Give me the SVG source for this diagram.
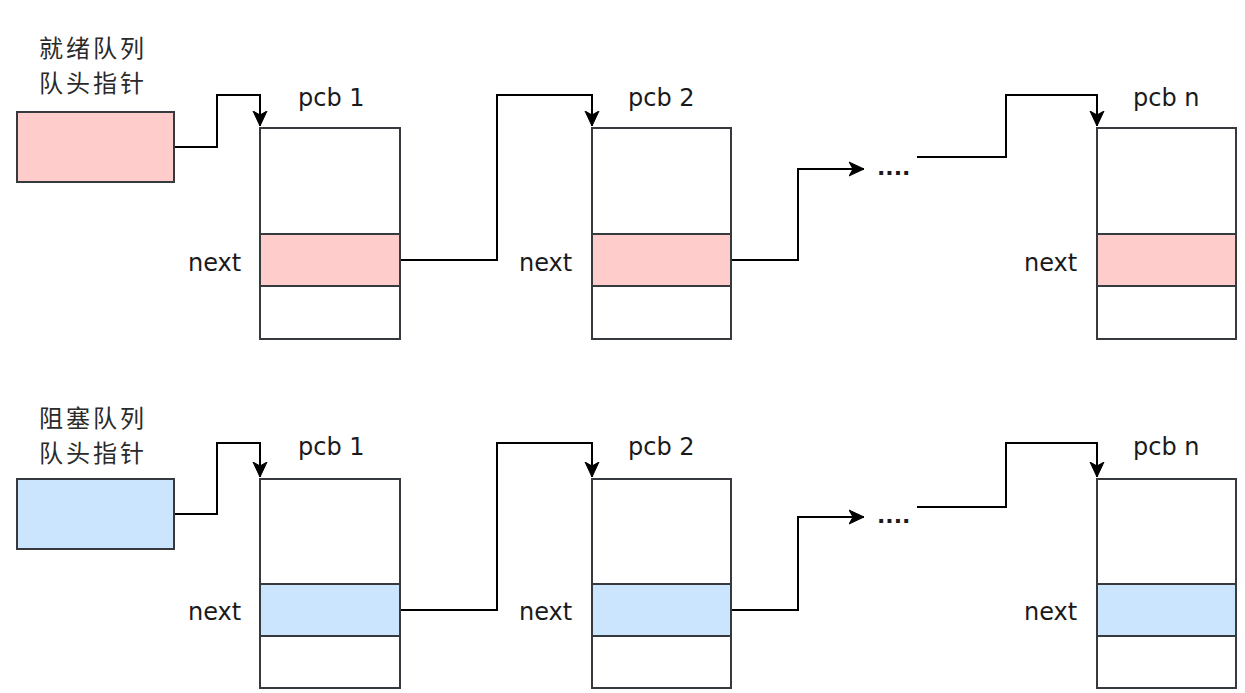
<svg xmlns="http://www.w3.org/2000/svg" width="1245" height="693" viewBox="0 0 1245 693">
<defs>
<marker id="arr" viewBox="0 0 16 16" markerWidth="16" markerHeight="16" refX="15" refY="8" orient="auto" markerUnits="userSpaceOnUse">
<path d="M0,1 L15,8 L0,15 L4,8 Z" fill="#000" stroke="#000" stroke-width="1" stroke-linejoin="miter"/>
</marker>
<style>
.box{fill:#fff;stroke:#36393d;stroke-width:2}
.pink{fill:#ffcccc;stroke:#36393d;stroke-width:2}
.blue{fill:#cce5ff;stroke:#36393d;stroke-width:2}
.edge{fill:none;stroke:#000;stroke-width:2}
.lbl{font-family:"DejaVu Sans",sans-serif;font-size:24px;fill:#1a1a1a}
.cn{font-family:"Noto Sans CJK SC","Noto Sans",sans-serif;font-size:24px;letter-spacing:3px;fill:#2a2a2a}
.dots{font-family:"DejaVu Sans",sans-serif;font-size:22px;font-weight:bold;fill:#1a1a1a}
</style>
</defs>
<rect width="1245" height="693" fill="#fff"/>

<g id="connectors">
<path class="edge" d="M174,147 H217 V95 H260 V126" marker-end="url(#arr)"/>
<path class="edge" d="M400,260 H497 V95 H592 V126" marker-end="url(#arr)"/>
<path class="edge" d="M731,260 H798 V169 H864" marker-end="url(#arr)"/>
<path class="edge" d="M917,157 H1006 V95 H1097 V126" marker-end="url(#arr)"/>
<path class="edge" d="M174,514 H217 V443 H260 V477" marker-end="url(#arr)"/>
<path class="edge" d="M400,610 H497 V443 H592 V477" marker-end="url(#arr)"/>
<path class="edge" d="M731,610 H798 V517 H864" marker-end="url(#arr)"/>
<path class="edge" d="M917,507 H1006 V443 H1097 V477" marker-end="url(#arr)"/>
</g>

<g id="ready-head">
<text class="cn" x="39" y="57">就绪队列</text>
<text class="cn" x="39" y="92">队头指针</text>
<rect class="pink" x="17" y="112" width="157" height="70"/>
</g>
<g id="ready-pcb1">
<text class="lbl" x="298" y="106">pcb 1</text>
<rect class="box" x="260" y="128" width="140" height="211"/>
<rect class="pink" x="260" y="234" width="140" height="52"/>
<text class="lbl" x="188" y="271">next</text>
</g>
<g id="ready-pcb2">
<text class="lbl" x="628" y="106">pcb 2</text>
<rect class="box" x="592" y="128" width="139" height="211"/>
<rect class="pink" x="592" y="234" width="139" height="52"/>
<text class="lbl" x="519" y="271">next</text>
</g>
<g id="ready-dots">
<text class="dots" x="877" y="175">....</text>
</g>
<g id="ready-pcbn">
<text class="lbl" x="1133" y="106">pcb n</text>
<rect class="box" x="1097" y="128" width="139" height="211"/>
<rect class="pink" x="1097" y="234" width="139" height="52"/>
<text class="lbl" x="1024" y="271">next</text>
</g>

<g id="block-head">
<text class="cn" x="39" y="427">阻塞队列</text>
<text class="cn" x="39" y="462">队头指针</text>
<rect class="blue" x="17" y="479" width="157" height="70"/>
</g>
<g id="block-pcb1">
<text class="lbl" x="298" y="455">pcb 1</text>
<rect class="box" x="260" y="479" width="140" height="209"/>
<rect class="blue" x="260" y="584" width="140" height="52"/>
<text class="lbl" x="188" y="620">next</text>
</g>
<g id="block-pcb2">
<text class="lbl" x="628" y="455">pcb 2</text>
<rect class="box" x="592" y="479" width="139" height="209"/>
<rect class="blue" x="592" y="584" width="139" height="52"/>
<text class="lbl" x="519" y="620">next</text>
</g>
<g id="block-dots">
<text class="dots" x="877" y="523">....</text>
</g>
<g id="block-pcbn">
<text class="lbl" x="1133" y="455">pcb n</text>
<rect class="box" x="1097" y="479" width="139" height="209"/>
<rect class="blue" x="1097" y="584" width="139" height="52"/>
<text class="lbl" x="1024" y="620">next</text>
</g>
</svg>
